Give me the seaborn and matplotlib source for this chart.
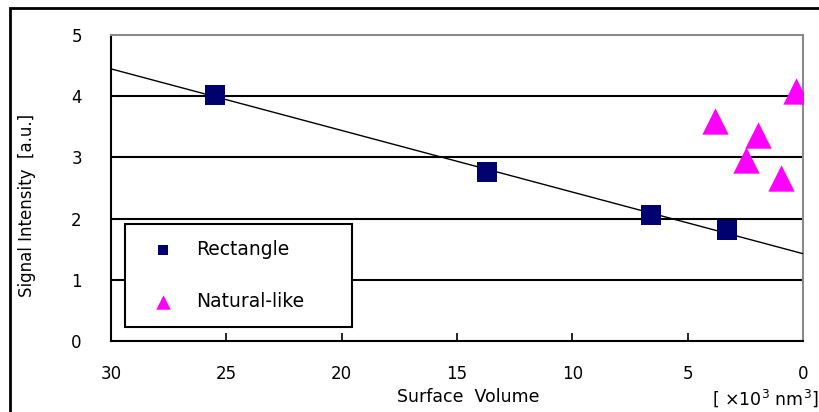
import matplotlib
matplotlib.use("Agg")
import matplotlib.pyplot as plt
from matplotlib.patches import Rectangle
import seaborn as sns
import numpy as np

# Data
rect_x = [25.5, 13.7, 6.6, 3.3]
rect_y = [4.02, 2.76, 2.06, 1.81]
nat_x = [0.3, 3.8, 1.95, 2.45, 0.95]
nat_y = [4.08, 3.60, 3.36, 2.96, 2.66]
x_ticks = [30, 25, 20, 15, 10, 5, 0]
y_ticks = [0, 1, 2, 3, 4, 5]

sns.set_theme(style="white")
plt.rcParams['font.family'] = ['DejaVu Sans']
plt.rcParams['mathtext.fontset'] = 'dejavusans'
for k in ['text.color', 'axes.labelcolor', 'xtick.color', 'ytick.color']:
    plt.rcParams[k] = 'black'

W, H = 819, 412
fig = plt.figure(figsize=(W / 100, H / 100), dpi=100)
ax = fig.add_axes([111 / W, 1 - 341 / H, (803 - 111) / W, (341 - 35) / H])
ax.set_facecolor('white')

ax.set_xlim(30, 0)
ax.set_ylim(0, 5)

# regression line through rectangle points, extended to the axes limits
sns.regplot(x=np.array(rect_x), y=np.array(rect_y), ax=ax, scatter=False, ci=None,
            truncate=False, color='black', line_kws=dict(lw=1.0, zorder=3))

sns.scatterplot(x=rect_x, y=rect_y, ax=ax, marker='s', s=190, color='#00006e',
                edgecolor='#00006e', linewidth=0, label='Rectangle', zorder=4)
sns.scatterplot(x=nat_x, y=nat_y, ax=ax, marker='^', s=360, color='#ff00ff',
                edgecolor='#ff00ff', linewidth=0, label='Natural-like', zorder=4)

ax.set_xlim(30, 0)
ax.set_ylim(0, 5)
ax.set_xticks(x_ticks)
ax.set_xticklabels([str(v) for v in x_ticks])
ax.set_yticks(y_ticks)
ax.set_yticklabels([str(v) for v in y_ticks])

ax.yaxis.grid(True, color='black', lw=1.5, zorder=1)
ax.xaxis.grid(False)
ax.set_axisbelow(True)
ax.get_ygridlines()[-1].set_visible(False)
ax.get_ygridlines()[0].set_visible(False)

for side in ['left', 'bottom']:
    ax.spines[side].set_color('black')
    ax.spines[side].set_linewidth(1.5)
for side in ['top', 'right']:
    ax.spines[side].set_color('#8a8a8a')
    ax.spines[side].set_linewidth(1.5)

ax.tick_params(axis='x', direction='in', length=6, width=1.2, color='black',
               pad=17, labelsize=12, top=False, bottom=True)
ax.tick_params(axis='y', length=0, pad=21, labelsize=12)

ax.set_xlabel('Surface  Volume', fontsize=12.5)
ax.xaxis.set_label_coords((468 - 111) / 692, (341 - 388) / 306)
ax.set_ylabel('Signal Intensity  [a.u.]', fontsize=12)
ax.yaxis.label.set_va('center')
ax.yaxis.set_label_coords((27 - 111) / 692, (341 - 205) / 306)

fig.text(0.999, 1 - 398 / H, '[ ×10$^3$ nm$^3$]', ha='right', va='center', fontsize=12.5)

leg = ax.legend(loc='lower left', bbox_to_anchor=(14 / 692, 14 / 306, 227 / 692, 102 / 306),
                mode='expand', frameon=True, fancybox=False, edgecolor='black',
                fontsize=13.5, markerscale=0.55, borderpad=0.85, labelspacing=1.75,
                handlelength=2.4, handletextpad=0.55, framealpha=1, borderaxespad=0)
leg.get_frame().set_linewidth(1.5)
leg.set_zorder(5)

# outer chart border (cropped at right/bottom in the reference)
fig.add_artist(Rectangle((10 / W, -0.1), 1.2, 1 - 8 / H + 0.1, transform=fig.transFigure,
                         fill=False, edgecolor='black', lw=2))

fig.savefig('out.png', dpi=100)
